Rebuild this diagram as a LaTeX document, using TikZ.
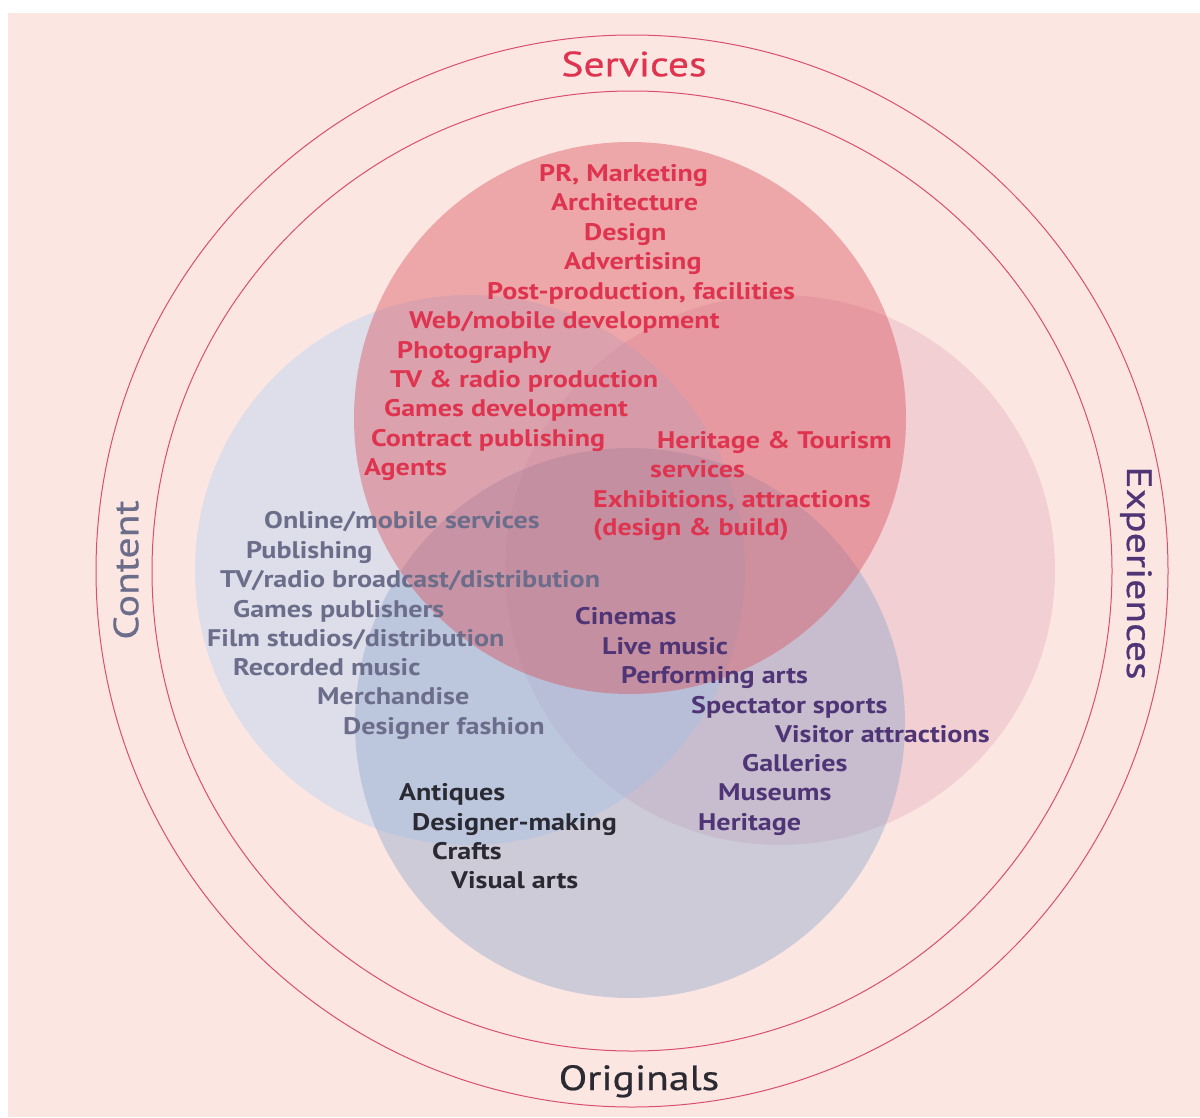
\documentclass[tikz,border=0pt]{standalone}
\usepackage{fontspec}
\setmainfont[FakeStretch=1.17]{PT Sans}
\newfontfamily\labfont[FakeStretch=1.19,FakeBold=0.6]{PT Sans}
\definecolor{bgpink}{HTML}{FCE6E2}
\definecolor{ringred}{HTML}{D9506E}
\definecolor{svcfill}{HTML}{D9505B}
\definecolor{expfill}{HTML}{E1AABA}
\definecolor{cntfill}{HTML}{AFD2F5}
\definecolor{orgfill}{HTML}{8FA6CC}
\definecolor{svcred}{HTML}{DF3450}
\definecolor{cntgray}{HTML}{6B6D8A}
\definecolor{exppurple}{HTML}{4F3575}
\definecolor{orgdark}{HTML}{2A2A33}
\begin{document}
\begin{tikzpicture}[x=1pt,y=-1pt,
  itm/.style={anchor=base west, inner sep=0pt, font=\fontsize{24}{24}\selectfont\bfseries},
  svc/.style={itm, text=svcred},
  cnt/.style={itm, text=cntgray},
  expt/.style={itm, text=exppurple},
  org/.style={itm, text=orgdark},
  lab/.style={inner sep=0pt, font=\labfont\fontsize{35}{35}\selectfont},
  ring/.style={draw=ringred, line width=1pt}]
\useasboundingbox (0,0) rectangle (1200,1117);
\fill[white] (0,0) rectangle (1200,1117);
\fill[bgpink] (8,13) rectangle (1200,1117);
% rings
\draw[ring] (632,571) circle[radius=536pt];
\draw[ring] (632,571) circle[radius=480pt];
% venn circles
\fill[expfill, opacity=.38] (780,570) circle[radius=275pt];
\fill[cntfill, opacity=.40] (470,570) circle[radius=275pt];
\fill[orgfill, opacity=.42] (630,723) circle[radius=275pt];
\fill[svcfill, opacity=.42] (630,418) circle[radius=276pt];
% labels
\node[lab, text=svcred] (lserv) at (634,64) {Services};
\node[lab, text=orgdark, anchor=base] (lorig) at (639,1090) {Originals};
\node[lab, text=cntgray, rotate=90] (lcont) at (126,570) {Content};
\node[lab, text=exppurple, rotate=-90, anchor=base] (lexp) at (1127,573) {Experiences};
% services items
\node[svc] (s1) at (539,181) {PR, Marketing};
\node[svc] (s2) at (551,210) {Architecture};
\node[svc] (s3) at (584,240) {Design};
\node[svc] (s4) at (564,269) {Advertising};
\node[svc] (s5) at (487,299) {Post-production, facilities};
\node[svc] (s6) at (409,328) {Web/mobile development};
\node[svc] (s7) at (397,358) {Photography};
\node[svc] (s8) at (390,387) {TV \& radio production};
\node[svc] (s9) at (384,416) {Games development};
\node[svc] (s10) at (371,446) {Contract publishing};
\node[svc] (s11) at (364,475) {Agents};
\node[svc] (s12) at (657,448) {Heritage \& Tourism};
\node[svc] (s13) at (650,477) {services};
\node[svc] (s14) at (593,507) {Exhibitions, attractions};
\node[svc] (s15) at (593,535) {(design \& build)};
% content items
\node[cnt] (c1) at (264,528) {Online/mobile services};
\node[cnt] (c2) at (246,558) {Publishing};
\node[cnt] (c3) at (220,587) {TV/radio broadcast/distribution};
\node[cnt] (c4) at (233,617) {Games publishers};
\node[cnt] (c5) at (207,646) {Film studios/distribution};
\node[cnt] (c6) at (233,675) {Recorded music};
\node[cnt] (c7) at (317,704) {Merchandise};
\node[cnt] (c8) at (343,734) {Designer fashion};
% experiences items
\node[expt] (e1) at (575,624) {Cinemas};
\node[expt] (e2) at (602,654) {Live music};
\node[expt] (e3) at (621,683) {Performing arts};
\node[expt] (e4) at (691,713) {Spectator sports};
\node[expt] (e5) at (775,742) {Visitor attractions};
\node[expt] (e6) at (742,771) {Galleries};
\node[expt] (e7) at (718,800) {Museums};
\node[expt] (e8) at (698,830) {Heritage};
% originals items
\node[org] (o1) at (399,800) {Antiques};
\node[org] (o2) at (412,830) {Designer-making};
\node[org] (o3) at (432,859) {Crafts};
\node[org] (o4) at (451,888) {Visual arts};
\end{tikzpicture}
\end{document}
